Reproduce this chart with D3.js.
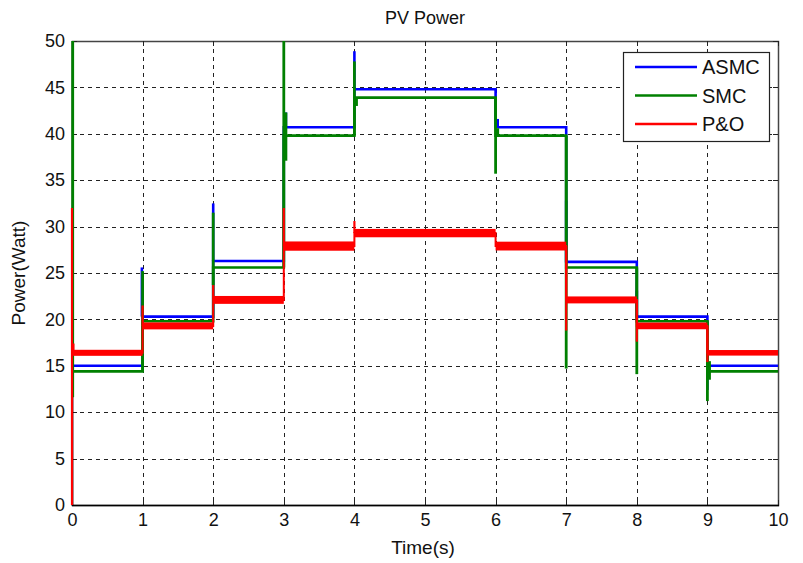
<!DOCTYPE html>
<head>
  <meta charset="utf-8">
  <style>
    body { margin: 0; background: #fff; }
    svg text { font-family: "Liberation Sans", Arial, sans-serif; fill: #111; }
    svg .grid { stroke: #222; stroke-width: 1px; stroke-dasharray: 4,4; }
    svg .tick-mark { stroke: #222; stroke-width: 1px; }
  </style>
</head>
<body>
<script src="https://d3js.org/d3.v7.min.js"></script>
<script>
  // tick values
  var xTicks = [0, 1, 2, 3, 4, 5, 6, 7, 8, 9, 10];
  var yTicks = [0, 5, 10, 15, 20, 25, 30, 35, 40, 45, 50];

  // switching instants of the irradiance profile (s)
  var breaks = [0, 1, 2, 3, 4, 6, 7, 8, 9, 10];

  // steady power per interval (W)
  var asmcLevels = [15.0, 20.3, 26.3, 40.7, 44.8, 40.7, 26.2, 20.3, 15.0];
  var smcLevels  = [14.4, 19.8, 25.6, 39.8, 43.9, 39.8, 25.6, 19.8, 14.4];
  var poLevels   = [16.4, 19.3, 22.1, 27.9, 29.3, 27.9, 22.1, 19.3, 16.4];
  // P&O oscillation band height per interval (W)
  var poBand     = [0.65, 0.75, 0.85, 1.0, 0.9, 0.95, 0.75, 0.72, 0.6];

  // transients at the switching instants: [time, low, high]
  var asmcSpikes = [[0.99, 20.3, 25.6], [2, 26.3, 32.5], [3.03, 40.7, 42.3], [4, 44.8, 48.9],
    [6.03, 40.7, 41.6], [7, 26.2, 32.8], [8, 20.3, 23.1], [9, 12.4, 17.7]];
  var smcSpikes = [[0.01, 11.6, 50], [1, 14.4, 25.2], [2, 23.7, 31.5], [3, 25.6, 50],
    [3.03, 37.1, 42.3], [4, 39.8, 47.8], [4.03, 43.0, 43.9], [6, 35.7, 43.9],
    [6.03, 39.8, 40.6], [7, 14.7, 39.8], [8, 14.1, 25.6], [9, 11.2, 19.8], [9.03, 13.5, 15.5]];
  var poSpikes = [[0, 0, 32], [0.02, 16.4, 17.4], [1, 19.3, 21.5], [2, 22.1, 23.7],
    [3, 27.9, 32], [4, 29.3, 30.6], [7, 18.8, 27.9], [8, 17.6, 22.1], [9, 15.4, 19.3]];

  var seriesNames = ["ASMC", "SMC", "P&O"];
  var seriesColors = ["#0000ff", "#008000", "#ff0000"];

  var W = 803, H = 563;
  var plot = { left: 72, top: 41, right: 778, bottom: 505 };
  var font = "'Liberation Sans', Arial, sans-serif";

  var svg = d3.select("body").append("svg")
      .attr("width", W)
      .attr("height", H);

  var x = d3.scaleLinear().domain([0, 10]).range([plot.left, plot.right]);
  var y = d3.scaleLinear().domain([0, 50]).range([plot.bottom, plot.top]);

  // grid
  svg.append("g").selectAll("line")
    .data(xTicks.filter(function (d) { return d > 0 && d < 10; }))
    .join("line")
      .classed("grid", true)
      .attr("x1", function (d) { return Math.round(x(d)) + 0.5; })
      .attr("x2", function (d) { return Math.round(x(d)) + 0.5; })
      .attr("y1", plot.top)
      .attr("y2", plot.bottom);

  svg.append("g").selectAll("line")
    .data(yTicks.filter(function (d) { return d > 0 && d < 50; }))
    .join("line")
      .classed("grid", true)
      .attr("x1", plot.left)
      .attr("x2", plot.right)
      .attr("y1", function (d) { return Math.round(y(d)) + 0.5; })
      .attr("y2", function (d) { return Math.round(y(d)) + 0.5; });

  // frame
  svg.append("rect")
    .attr("x", plot.left + 0.5)
    .attr("y", plot.top + 0.5)
    .attr("width", plot.right - plot.left)
    .attr("height", plot.bottom - plot.top)
    .style("fill", "none")
    .style("stroke", "#444")
    .style("stroke-width", "1.5px");

  // inward ticks on all four sides
  var tl = 5;
  var tk = svg.append("g");
  xTicks.forEach(function (d) {
    var px = Math.round(x(d)) + 0.5;
    tk.append("line").classed("tick-mark", true)
      .attr("x1", px).attr("x2", px)
      .attr("y1", plot.bottom).attr("y2", plot.bottom - tl);
    tk.append("line").classed("tick-mark", true)
      .attr("x1", px).attr("x2", px)
      .attr("y1", plot.top).attr("y2", plot.top + tl);
  });
  yTicks.forEach(function (d) {
    var py = Math.round(y(d)) + 0.5;
    tk.append("line").classed("tick-mark", true)
      .attr("x1", plot.left).attr("x2", plot.left + tl)
      .attr("y1", py).attr("y2", py);
    tk.append("line").classed("tick-mark", true)
      .attr("x1", plot.right).attr("x2", plot.right - tl)
      .attr("y1", py).attr("y2", py);
  });

  // tick labels via d3 axes (tick lines hidden)
  var xAxis = d3.axisBottom(x).tickValues(xTicks).tickSize(0).tickPadding(8)
    .tickFormat(d3.format("d"));
  svg.append("g")
      .attr("transform", "translate(0," + plot.bottom + ")")
      .call(xAxis)
      .call(function (g) { g.select(".domain").remove(); })
      .selectAll("text")
        .style("font-size", "18px")
        .style("font-family", font)
        .style("fill", "#111");

  var yAxis = d3.axisLeft(y).tickValues(yTicks).tickSize(0).tickPadding(7)
    .tickFormat(d3.format("d"));
  svg.append("g")
      .attr("transform", "translate(" + plot.left + ",0)")
      .call(yAxis)
      .call(function (g) { g.select(".domain").remove(); })
      .selectAll("text")
        .style("font-size", "18px")
        .style("font-family", font)
        .style("fill", "#111");

  // left and bottom axis lines in black
  svg.append("line")
    .attr("x1", plot.left + 0.5).attr("x2", plot.left + 0.5)
    .attr("y1", plot.top).attr("y2", plot.bottom + 1)
    .style("stroke", "#000").style("stroke-width", "1.5px");
  svg.append("line")
    .attr("x1", plot.left).attr("x2", plot.right + 1)
    .attr("y1", plot.bottom + 0.5).attr("y2", plot.bottom + 0.5)
    .style("stroke", "#000").style("stroke-width", "1.5px");

  // series: step levels + transient spikes
  var step = d3.line()
    .x(function (d) { return x(d[0]); })
    .y(function (d) { return y(d[1]); })
    .curve(d3.curveStepAfter);

  function stepData(levels) {
    var pts = levels.map(function (v, i) { return [breaks[i], v]; });
    pts.push([breaks[breaks.length - 1], levels[levels.length - 1]]);
    return pts;
  }

  function drawSpikes(spikes, color, w) {
    svg.append("g").selectAll("line")
      .data(spikes)
      .join("line")
        .attr("x1", function (d) { return x(d[0]); })
        .attr("x2", function (d) { return x(d[0]); })
        .attr("y1", function (d) { return y(d[1]); })
        .attr("y2", function (d) { return y(d[2]); })
        .style("stroke", color)
        .style("stroke-width", w);
  }

  // ASMC
  svg.append("path")
    .attr("d", step(stepData(asmcLevels)))
    .style("fill", "none")
    .style("stroke", seriesColors[0])
    .style("stroke-width", "2.6px");
  drawSpikes(asmcSpikes, seriesColors[0], "2.6px");

  // SMC
  svg.append("path")
    .attr("d", step(stepData(smcLevels)))
    .style("fill", "none")
    .style("stroke", seriesColors[1])
    .style("stroke-width", "2.6px");
  drawSpikes(smcSpikes, seriesColors[1], "2.8px");

  // P&O
  svg.append("path")
    .attr("d", step(stepData(poLevels)))
    .style("fill", "none")
    .style("stroke", seriesColors[2])
    .style("stroke-width", "2px");
  drawSpikes(poSpikes, seriesColors[2], "2.2px");

  // P&O oscillation band
  svg.append("g").selectAll("rect")
    .data(poLevels)
    .join("rect")
      .attr("x", function (d, i) { return x(breaks[i]); })
      .attr("width", function (d, i) { return x(breaks[i + 1]) - x(breaks[i]); })
      .attr("y", function (d, i) { return y(d + poBand[i] / 2); })
      .attr("height", function (d, i) { return y(d - poBand[i] / 2) - y(d + poBand[i] / 2); })
      .style("fill", seriesColors[2]);

  // title and axis titles
  svg.append("text")
    .attr("x", (plot.left + plot.right) / 2)
    .attr("y", 24)
    .text("PV Power")
    .style("text-anchor", "middle")
    .style("font-size", "18px");

  svg.append("text")
    .attr("x", (plot.left + plot.right) / 2 - 2)
    .attr("y", 554)
    .text("Time(s)")
    .style("text-anchor", "middle")
    .style("font-size", "19px");

  svg.append("text")
    .attr("transform", "translate(25," + (plot.top + plot.bottom) / 2 + ") rotate(-90)")
    .text("Power(Watt)")
    .style("text-anchor", "middle")
    .style("font-size", "19px");

  // legend
  var lg = svg.append("g").attr("transform", "translate(623,52)");
  lg.append("rect")
    .attr("x", 0.5).attr("y", 0.5)
    .attr("width", 146).attr("height", 89)
    .style("fill", "#fff")
    .style("stroke", "#222")
    .style("stroke-width", "1.2px");
  seriesNames.forEach(function (name, i) {
    var ly = 15 + i * 28.5;
    lg.append("line")
      .attr("x1", 12).attr("x2", 74)
      .attr("y1", ly).attr("y2", ly)
      .style("stroke", seriesColors[i])
      .style("stroke-width", "2.5px");
    lg.append("text")
      .attr("x", 79).attr("y", ly + 7)
      .text(name)
      .style("font-size", "20px");
  });
</script>
</body>
</html>
